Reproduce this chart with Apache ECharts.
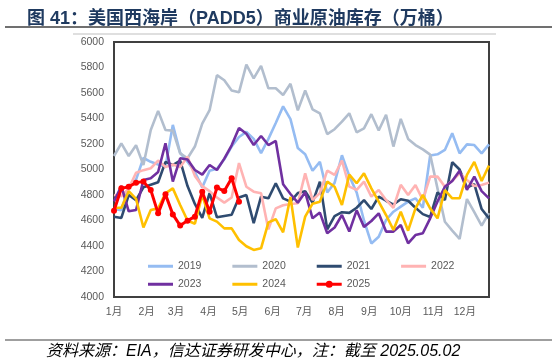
<!DOCTYPE html>
<html><head><meta charset="utf-8">
<script src="https://cdn.jsdelivr.net/npm/echarts@6/dist/echarts.min.js"></script>
<style>html,body{margin:0;padding:0;background:#fff}#c{width:557px;height:364px}</style>
</head><body><div id="c"></div>
<script>
// ---- data ----
const monthLabels = ['1月','2月','3月','4月','5月','6月','7月','8月','9月','10月','11月','12月'];
const monthStartDays = [0,31,59,90,120,151,181,212,243,273,304,334];
const yTicks = [4000,4200,4400,4600,4800,5000,5200,5400,5600,5800,6000];
const years = ['2019','2020','2021','2022','2023','2024','2025'];

const s2019 = [4690,4680,4870,4920,5090,5060,5040,5020,5350,5130,5060,4980,4860,4990,5005,5080,5180,5255,5295,5240,5128,5240,5365,5495,5395,5168,5120,4990,5060,4820,4895,5112,4950,4820,4600,4420,4473,4604,4669,4709,4748,4774,4700,5110,5119,5153,5284,5127,5197,5192,5127,5197];
const s2020 = [5106,5205,5106,5190,5035,5310,5460,5310,5305,5127,5088,5180,5360,5465,5740,5700,5620,5605,5822,5714,5813,5637,5637,5584,5672,5464,5619,5472,5440,5277,5316,5375,5441,5291,5322,5434,5306,5430,5180,5397,5240,5192,5158,5117,4850,4590,4520,4455,4768,4665,4560,4658];
const s2021 = [4630,4620,4800,4760,4860,4880,4900,5060,5035,5070,4870,4730,4620,4815,4625,4635,4645,4780,4800,4580,4787,4774,4892,4774,4748,4815,4830,4740,4905,4530,4635,4665,4660,4700,4760,4690,4787,4755,4725,4767,4755,4700,4650,4628,4820,4760,5057,5000,4858,4885,4690,4617];
const s2022 = [4800,4790,4850,4975,4995,5010,5070,5020,5040,5020,5100,4950,4870,4830,4780,4740,4780,5050,4865,4826,4813,4530,4695,4720,4730,4735,4970,4761,4815,4991,4957,5070,4866,4840,4905,4787,4840,4761,4700,4880,4800,4878,4761,4944,4944,4865,4912,4970,4918,4870,4878,4897];
const s2023 = [4750,4870,4672,4682,4918,4931,4980,5205,4905,5088,5078,4996,4960,5035,4996,5085,5190,5325,5280,5192,5263,5192,5224,4885,4808,4740,4822,4617,4662,4500,4545,4643,4513,4680,4550,4596,4656,4513,4513,4565,4421,4486,4500,4617,4750,4865,4910,4990,4840,4944,4830,4774];
const s2024 = [4700,4700,4830,4770,4545,4682,4695,4813,4852,4722,4600,4575,4800,4617,4591,4538,4538,4447,4398,4369,4382,4585,4610,4507,4785,4388,4630,4732,4748,4905,4865,4722,4960,4892,4970,4852,4748,4643,4526,4669,4520,4695,4800,4695,4617,4839,4774,4774,4957,5060,4910,5030];
const s2025 = [4677,4852,4865,4897,4905,4839,4656,4805,4648,4560,4599,4630,4826,4669,4858,4831,4931,4748];

const seriesValues = [s2019,s2020,s2021,s2022,s2023,s2024,s2025];
const colors = ['#95BCF2','#B2BECE','#2F4B70','#FFB3B3','#7030A0','#FFC000','#FF0000'];

const FONT = '"Liberation Sans","Noto Sans CJK SC",sans-serif';
const chart = echarts.init(document.getElementById('c'), null, {renderer:'canvas'});

const series = years.map((y, k) => {
  const isLast = k === years.length - 1;
  return {
    name: y,
    type: 'line',
    data: seriesValues[k].map((v, i) => [i, v]),
    symbol: isLast ? 'circle' : 'none',
    symbolSize: 6,
    showSymbol: isLast,
    lineStyle: { color: colors[k], width: isLast ? 3 : 2.6 },
    itemStyle: { color: colors[k] },
    z: isLast ? 10 : 2 + k,
    animation: false
  };
});

const LINE_ICON = 'path://M0,2.5h25v3h-25z';
const DOT_ICON = 'path://M0,2.5h25v3h-25z M16,4a3.5,3.5 0 1,1 -7,0a3.5,3.5 0 1,1 7,0z';
const legendItem = (y) => ({ name: y, icon: y === '2025' ? DOT_ICON : LINE_ICON });

const legendCommon = {
  itemWidth: 25, itemHeight: 8, itemGap: 31, padding: 0,
  textStyle: { color: '#595959', fontSize: 10.5, fontFamily: FONT },
  orient: 'horizontal'
};

chart.setOption({
  backgroundColor: '#fff',
  animation: false,
  title: {
    text: '图 41：美国西海岸（PADD5）商业原油库存（万桶）',
    left: 22, top: 5,
    textStyle: { color: '#1F3A60', fontSize: 18, fontWeight: 'bold', fontFamily: FONT }
  },
  graphic: [
    { type: 'line', shape: { x1: 5, y1: 27, x2: 552, y2: 27 }, style: { stroke: '#404040', lineWidth: 1.5 } },
    { type: 'line', shape: { x1: 73, y1: 34, x2: 496, y2: 34 }, style: { stroke: '#BFBFBF', lineWidth: 1 } },
    { type: 'line', shape: { x1: 5, y1: 340, x2: 552, y2: 340 }, style: { stroke: '#7F7F7F', lineWidth: 1.5 } },
    { type: 'text', left: 46, top: 344,
      style: { text: '资料来源：EIA，信达证券研发中心，注：截至 2025.05.02', fill: '#000', font: 'italic 16px ' + FONT } }
  ],
  grid: { left: 114, right: 68, top: 42, bottom: 67, show: true, borderColor: '#404040', borderWidth: 2, backgroundColor: 'transparent' },
  legend: [
    Object.assign({}, legendCommon, { data: years.slice(0, 4).map(legendItem), left: 148, top: 261 }),
    Object.assign({}, legendCommon, { data: years.slice(4).map(legendItem), left: 148, top: 279 })
  ],
  xAxis: {
    type: 'value', min: 0, max: 51,
    axisLine: { show: false }, axisTick: { show: false }, splitLine: { show: false },
    axisLabel: {
      customValues: monthStartDays.map(d => d / 7),
      formatter: function (v) {
        const idx = monthStartDays.findIndex(d => Math.abs(d / 7 - v) < 1e-6);
        return idx >= 0 ? monthLabels[idx] : '';
      },
      color: '#595959', fontSize: 10.5, fontFamily: FONT, margin: 10
    }
  },
  yAxis: {
    type: 'value', min: yTicks[0], max: yTicks[yTicks.length - 1], interval: 200,
    axisLine: { show: false }, axisTick: { show: false }, splitLine: { show: false },
    axisLabel: { color: '#595959', fontSize: 10.5, fontFamily: FONT, margin: 10, formatter: v => String(v) }
  },
  series: series
});
</script>
</body></html>
